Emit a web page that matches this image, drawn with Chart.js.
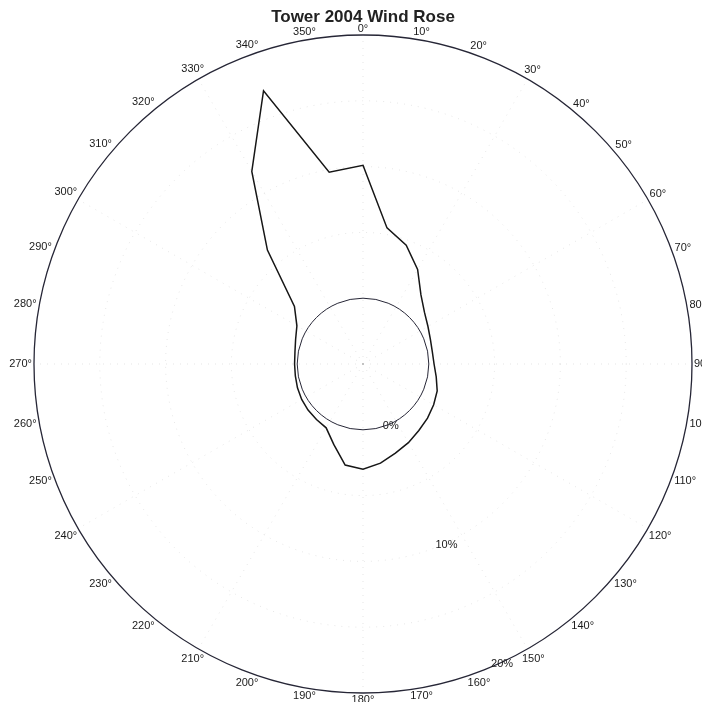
<!DOCTYPE html>
<html>
<head>
<meta charset="utf-8">
<script src="https://cdn.jsdelivr.net/npm/chart.js@4/dist/chart.umd.min.js"></script>
<style>
  html, body { margin: 0; padding: 0; background: #ffffff; }
  #wrap { width: 702px; height: 702px; }
</style>
</head>
<body>
<div id="wrap"><canvas id="rose" width="702" height="702"></canvas></div>
<script>
// Compass directions (degrees, clockwise from north)
const directionLabels = [
  '0°', '10°', '20°', '30°', '40°', '50°', '60°', '70°', '80°',
  '90°', '100°', '110°', '120°', '130°', '140°', '150°', '160°', '170°',
  '180°', '190°', '200°', '210°', '220°', '230°', '240°', '250°', '260°',
  '270°', '280°', '290°', '300°', '310°', '320°', '330°', '340°', '350°'
];

// Frequency of wind from each direction, percent
const frequency = [
  10.1, 5.5, 4.6, 3.3, 1.85, 1.1, 0.7, 0.45, 0.35,
  0.4, 0.65, 1.0, 1.2, 1.4, 1.6, 1.9, 2.2, 2.65,
  3.0, 2.8, 1.5, 0.6, 0.5, 0.45, 0.38, 0.3, 0.22,
  0.2, 0.25, 0.45, 0.8, 1.8, 6.3, 11.9, 17.1, 9.8
];

// Ring labels and the values they mark
const ringValues = [0, 10, 20];
const ringLabels = ['0%', '10%', '20%'];
const ringLabelBearing = 155; // degrees

const FONT = '"Liberation Sans", Arial, Helvetica, sans-serif';

// Solid rings are the 0% and 20% circles; the rest are faint dotted guides
const isMainRing = (ctx) => ctx.tick && (ctx.tick.value === 0 || ctx.tick.value === 20);

// Direction labels around the outer ring
const directionLabelPlugin = {
  id: 'directionLabels',
  afterDraw(chart) {
    const s = chart.scales.r;
    const ctx = chart.ctx;
    ctx.save();
    ctx.font = '11px ' + FONT;
    ctx.fillStyle = '#1a1a1a';
    ctx.textAlign = 'center';
    ctx.textBaseline = 'middle';
    directionLabels.forEach((text, i) => {
      const a = s.getIndexAngle(i);
      const w = ctx.measureText(text).width;
      const h = 9;
      const off = 2 + Math.abs(Math.sin(a)) * w / 2 + Math.abs(Math.cos(a)) * h / 2;
      const p = s.getPointPosition(i, s.drawingArea + off);
      ctx.fillText(text, p.x, p.y);
    });
    ctx.restore();
  }
};

// Percentage labels along one bearing
const ringLabelPlugin = {
  id: 'ringLabels',
  afterDraw(chart) {
    const s = chart.scales.r;
    const ctx = chart.ctx;
    const rad = ringLabelBearing * Math.PI / 180;
    ctx.save();
    ctx.font = '11px ' + FONT;
    ctx.fillStyle = '#1a1a1a';
    ctx.textAlign = 'center';
    ctx.textBaseline = 'middle';
    ringValues.forEach((v, i) => {
      const d = s.getDistanceFromCenterForValue(v);
      ctx.fillText(ringLabels[i], s.xCenter + d * Math.sin(rad), s.yCenter - d * Math.cos(rad) + 2);
    });
    ctx.restore();
  }
};

new Chart(document.getElementById('rose'), {
  type: 'radar',
  data: {
    labels: directionLabels,
    datasets: [{
      data: frequency,
      borderColor: '#161616',
      borderWidth: 1.5,
      fill: false,
      pointRadius: 0,
      tension: 0
    }]
  },
  options: {
    responsive: false,
    animation: false,
    events: [],
    layout: { padding: { left: 34, right: 10, top: 0, bottom: 9 } },
    plugins: {
      legend: { display: false },
      tooltip: { enabled: false },
      title: {
        display: true,
        text: 'Tower 2004 Wind Rose',
        color: '#222222',
        font: { family: FONT, size: 17, weight: 'bold' },
        padding: { top: 7, bottom: 7.6 }
      }
    },
    scales: {
      r: {
        min: -5,
        max: 20,
        ticks: { display: false, stepSize: 5 },
        pointLabels: { display: false },
        grid: {
          circular: true,
          color: (ctx) => isMainRing(ctx) ? '#262636' : 'rgba(0,0,0,0.10)',
          lineWidth: (ctx) => (ctx.tick && ctx.tick.value === 20) ? 1.3 : 1
        },
        border: {
          dash: (ctx) => isMainRing(ctx) ? [] : [1, 6]
        },
        angleLines: {
          display: true,
          color: (ctx) => (ctx.index % 3 === 0) ? 'rgba(0,0,0,0.10)' : 'rgba(0,0,0,0)',
          borderDash: [1, 6]
        }
      }
    }
  },
  plugins: [directionLabelPlugin, ringLabelPlugin]
});
</script>
</body>
</html>
